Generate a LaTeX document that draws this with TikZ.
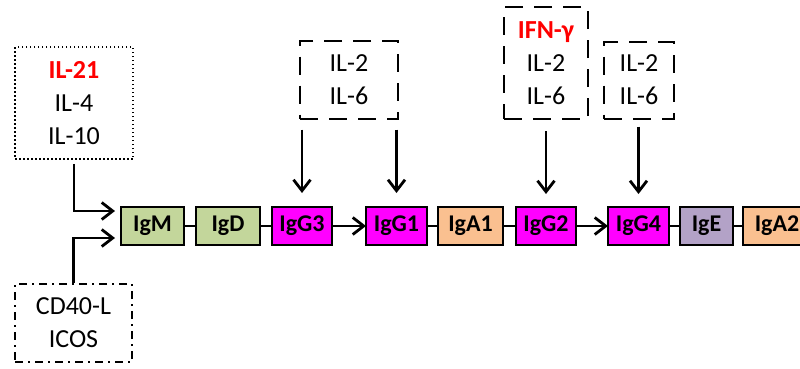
\documentclass[tikz,border=0pt]{standalone}
\usepackage{fontspec}
\setmainfont{Carlito}
\usetikzlibrary{arrows.meta, positioning}

\definecolor{igmgreen}{HTML}{C3D69B}
\definecolor{iggpink}{HTML}{FF00FF}
\definecolor{igaorange}{HTML}{FAC090}
\definecolor{igepurple}{HTML}{B3A2C7}
\definecolor{keyred}{HTML}{FF0000}

\begin{document}
\begin{tikzpicture}[
  x=1pt, y=1pt,
  ig/.style={draw, line width=1.8pt, minimum height=38pt, minimum width=61pt,
             inner sep=0pt, outer sep=0pt, font=\fontsize{24}{28}\selectfont\bfseries},
  gm/.style={ig, fill=igmgreen},
  gg/.style={ig, fill=iggpink},
  ga/.style={ig, fill=igaorange},
  ge/.style={ig, fill=igepurple},
  cyto/.style={align=center, inner sep=0pt, line width=2pt,
               font=\fontsize{26}{33}\selectfont},
  dotbox/.style={cyto, draw, line width=1.5pt, dash pattern=on 1.5pt off 2.5pt},
  dashbox/.style={cyto, draw, dash pattern=on 18pt off 11pt},
  dotdashbox/.style={cyto, draw, dash pattern=on 8pt off 5pt on 2pt off 5pt},
  arr/.style={line width=2.8pt, -{Straight Barb[length=11pt, width=17pt]}},
  link/.style={line width=2pt},
  node distance=12pt]

  \useasboundingbox (0,0) rectangle (800,368);

  % constant region genes
  \node[gm, minimum width=63pt] at (152.5,142) (igm) {IgM};
  \node[gm, minimum width=64pt, right=of igm] (igd) {IgD};
  \node[gg, minimum width=60pt, right=of igd] (igg3) {IgG3};
  \node[gg, right=34pt of igg3] (igg1) {IgG1};
  \node[ga, minimum width=65pt, right=11pt of igg1] (iga1) {IgA1};
  \node[gg, minimum width=60pt, right=13pt of iga1] (igg2) {IgG2};
  \node[gg, right=32pt of igg2] (igg4) {IgG4};
  \node[ge, minimum width=53pt, right=11pt of igg4] (ige) {IgE};
  \node[ga, minimum width=68pt, right=10pt of ige] (iga2) {IgA2};

  \draw[link] (igm) -- (igd);
  \draw[link] (igd) -- (igg3);
  \draw[arr] (igg3) -- (igg1);
  \draw[link] (igg1) -- (iga1);
  \draw[link] (iga1) -- (igg2);
  \draw[arr] (igg2) -- (igg4);
  \draw[link] (igg4) -- (ige);
  \draw[link] (ige) -- (iga2);

  % cytokines and co-stimulation
  \node[dotbox, minimum width=118pt, minimum height=112pt] at (74,265) (tfh)
    {{\color{keyred}\bfseries IL-21}\\ IL-4\\ IL-10};
  \node[dotdashbox, minimum width=117pt, minimum height=78pt] at (73.5,45) (costim)
    {CD40-L\\ ICOS};
  \node[dashbox, minimum width=98pt, minimum height=78pt] at (349,288.5) (cka)
    {IL-2\\ IL-6};
  \node[dashbox, minimum width=84pt, minimum height=112pt] at (546,305) (ckb)
    {{\color{keyred}\bfseries IFN-γ}\\ IL-2\\ IL-6};
  \node[dashbox, minimum width=70pt, minimum height=77pt] at (639,288) (ckc)
    {IL-2\\ IL-6};

  \draw[arr, shorten <=4pt] (tfh.south) |- ([xshift=-6pt, yshift=15pt]igm.west);
  \draw[arr] (costim.north) |- ([xshift=-6pt, yshift=-12pt]igm.west);
  \draw[arr, shorten <=10pt, shorten >=14pt] (cka.south -| igg3) -- (igg3.north);
  \draw[arr, shorten <=10pt, shorten >=14pt] (cka.south -| igg1) -- (igg1.north);
  \draw[arr, shorten <=11pt, shorten >=13pt] (ckb.south -| igg2) -- (igg2.north);
  \draw[arr, shorten <=7pt, shorten >=13pt] (ckc.south -| igg4) -- (igg4.north);
\end{tikzpicture}
\end{document}
